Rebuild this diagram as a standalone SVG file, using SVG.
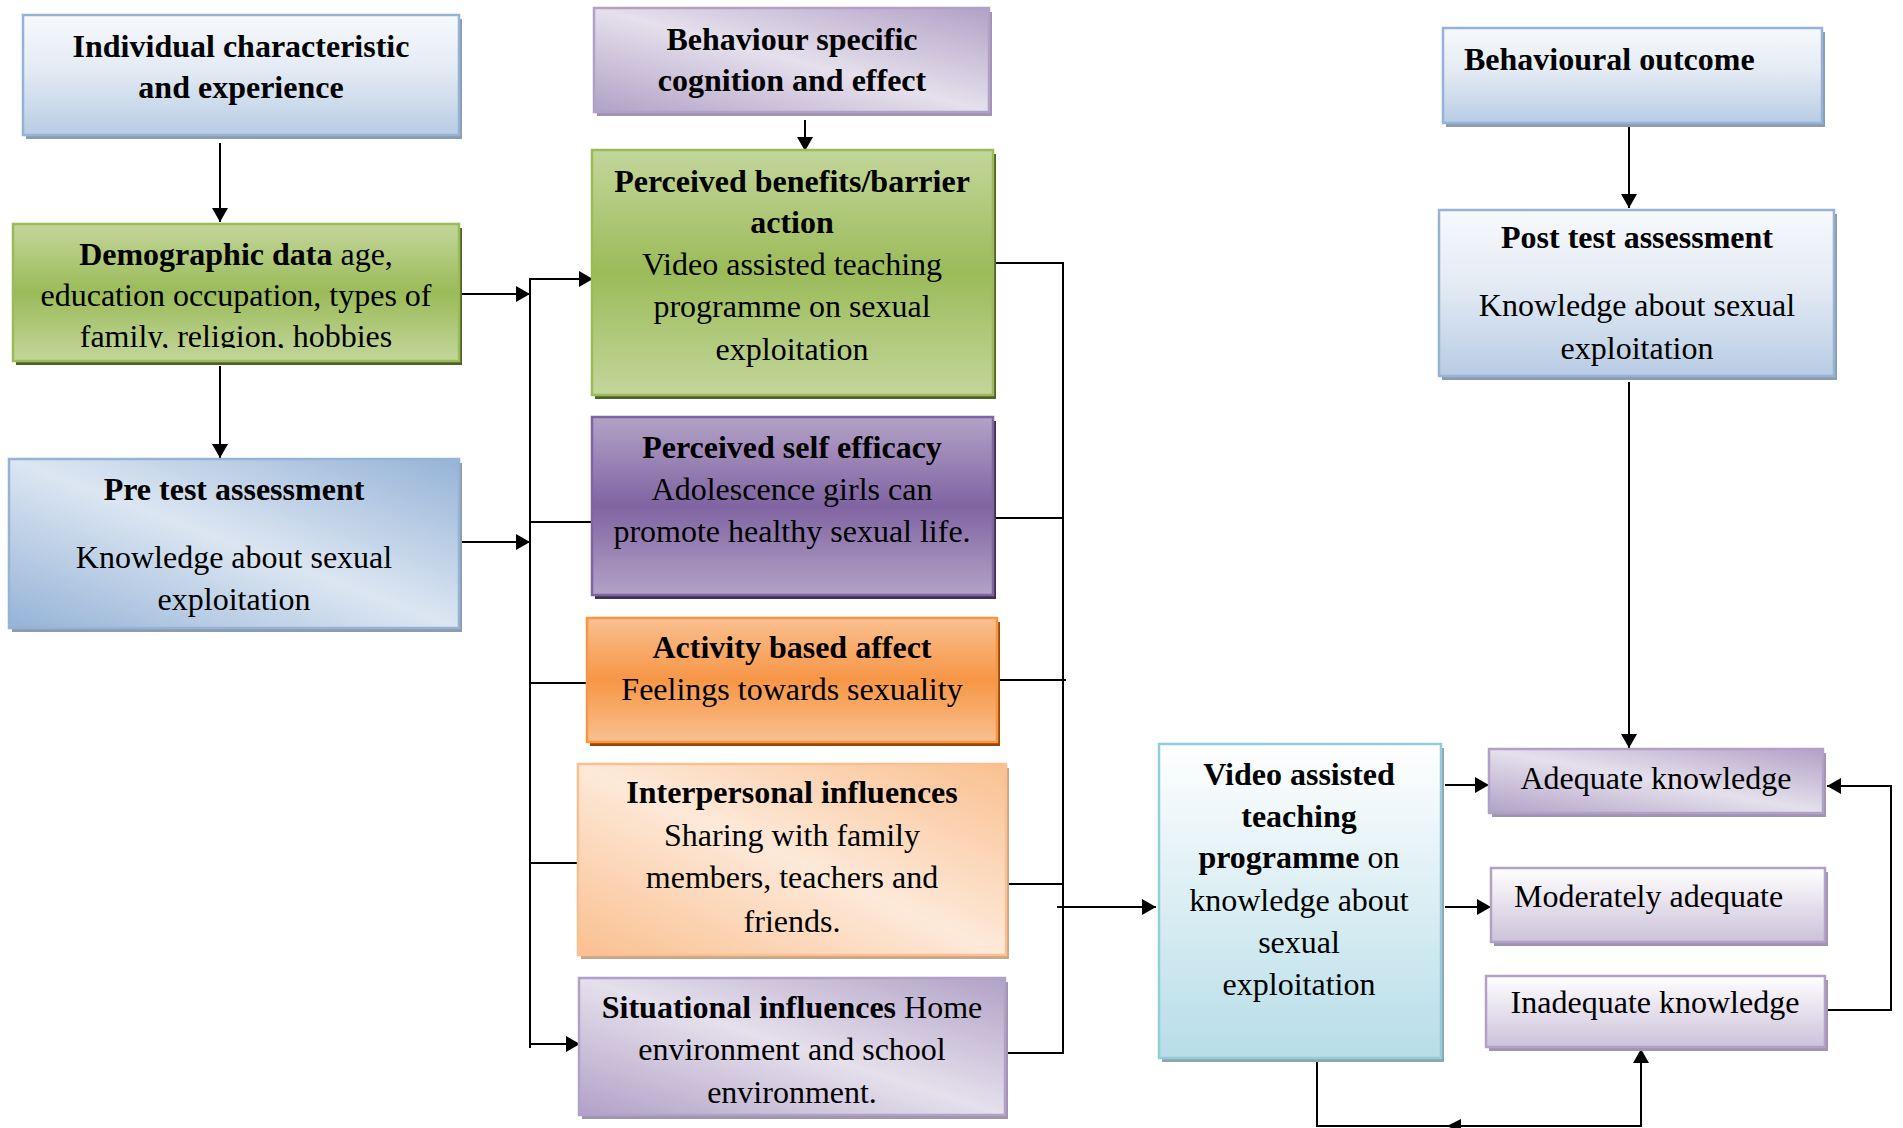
<svg xmlns="http://www.w3.org/2000/svg" width="1903" height="1128" viewBox="0 0 1903 1128">
<defs>
<style>
.t{font-family:"Liberation Serif","Times New Roman",serif;font-size:32px;fill:#000}
.c{text-anchor:middle}
.b{font-weight:bold}
.conn line,.conn polyline{stroke:#000;stroke-width:2;fill:none}
.ar{marker-end:url(#arr)}
</style>
<marker id="arr" markerUnits="userSpaceOnUse" markerWidth="16" markerHeight="16" refX="14" refY="8" orient="auto">
<path d="M0,0 L14,8 L0,16 Z" fill="#000"/>
</marker>
<linearGradient id="gBlue" x1="0" y1="0" x2="0" y2="1">
<stop offset="0" stop-color="#f7f9fc"/><stop offset="0.45" stop-color="#e4ebf4"/><stop offset="1" stop-color="#b8cce4"/>
</linearGradient>
<linearGradient id="gBlueDiag" x1="1" y1="0" x2="0" y2="1">
<stop offset="0" stop-color="#95b3d7"/><stop offset="0.5" stop-color="#dce6f2"/><stop offset="1" stop-color="#95b3d7"/>
</linearGradient>
<linearGradient id="gGreen" x1="0" y1="0" x2="0" y2="1">
<stop offset="0" stop-color="#c3d69b"/><stop offset="0.5" stop-color="#9bbb59"/><stop offset="1" stop-color="#c3d69b"/>
</linearGradient>
<linearGradient id="gPurpleDark" x1="0" y1="0" x2="0" y2="1">
<stop offset="0" stop-color="#b3a2c7"/><stop offset="0.5" stop-color="#8064a2"/><stop offset="1" stop-color="#b3a2c7"/>
</linearGradient>
<linearGradient id="gOrange" x1="0" y1="0" x2="0" y2="1">
<stop offset="0" stop-color="#fac090"/><stop offset="0.5" stop-color="#f79646"/><stop offset="1" stop-color="#fac090"/>
</linearGradient>
<linearGradient id="gPurpleDiag" x1="1" y1="0" x2="0" y2="1">
<stop offset="0" stop-color="#b2a1c7"/><stop offset="0.5" stop-color="#e5e0ec"/><stop offset="1" stop-color="#b2a1c7"/>
</linearGradient>
<linearGradient id="gOrangeDiag" x1="1" y1="0" x2="0" y2="1">
<stop offset="0" stop-color="#fac090"/><stop offset="0.5" stop-color="#fde9d9"/><stop offset="1" stop-color="#fac090"/>
</linearGradient>
<linearGradient id="gVideo" x1="0" y1="0" x2="0" y2="1">
<stop offset="0" stop-color="#ffffff"/><stop offset="1" stop-color="#b7dde8"/>
</linearGradient>
<linearGradient id="gPurpleV" x1="0" y1="0" x2="0" y2="1">
<stop offset="0" stop-color="#ffffff"/><stop offset="1" stop-color="#ccc1da"/>
</linearGradient>
<clipPath id="clipDemo"><rect x="13" y="224" width="446" height="124"/></clipPath>
</defs>

<g class="conn" id="connectors">
<line class="ar" x1="220" y1="143" x2="220" y2="222"/>
<line class="ar" x1="220" y1="366" x2="220" y2="458"/>
<line class="ar" x1="459" y1="294" x2="530" y2="294"/>
<line class="ar" x1="459" y1="542" x2="530" y2="542"/>
<line x1="530" y1="278" x2="530" y2="1048"/>
<line class="ar" x1="529" y1="279" x2="593" y2="279"/>
<line x1="530" y1="522" x2="594" y2="522"/>
<line x1="530" y1="683" x2="587" y2="683"/>
<line x1="530" y1="863" x2="578" y2="863"/>
<line class="ar" x1="530" y1="1044" x2="580" y2="1044"/>
<line class="ar" x1="805" y1="120" x2="805" y2="151"/>
<line x1="1063" y1="262" x2="1063" y2="1054"/>
<line x1="993" y1="263" x2="1064" y2="263"/>
<line x1="993" y1="518" x2="1063" y2="518"/>
<line x1="997" y1="680" x2="1066" y2="680"/>
<line x1="1006" y1="884" x2="1063" y2="884"/>
<line x1="1005" y1="1053" x2="1064" y2="1053"/>
<line class="ar" x1="1057" y1="907" x2="1156" y2="907"/>
<line class="ar" x1="1629" y1="126" x2="1629" y2="208"/>
<line class="ar" x1="1629" y1="382" x2="1629" y2="748"/>
<line class="ar" x1="1445" y1="785" x2="1489" y2="785"/>
<line class="ar" x1="1445" y1="907" x2="1491" y2="907"/>
<polyline class="ar" points="1828,1010 1891,1010 1891,786 1827,786"/>
<polyline class="ar" points="1317,1058 1317,1126 1641,1126 1641,1049"/>
<path d="M1447,1126 L1461,1119 L1461,1133 Z" fill="#000"/>
</g>

<g id="n-individual">
<rect x="26" y="19" width="436" height="120" fill="#8d9bae"/>
<rect x="23" y="15" width="436" height="120" fill="url(#gBlue)" stroke="#95b3d7" stroke-width="2.5"/>
<text class="t c b" x="241" y="57">Individual characteristic</text>
<text class="t c b" x="241" y="98">and experience</text>
</g>

<g id="n-demographic">
<rect x="16" y="228" width="446" height="137" fill="#4f6228"/>
<rect x="13" y="224" width="446" height="137" fill="url(#gGreen)" stroke="#9bbb59" stroke-width="2.5"/>
<g clip-path="url(#clipDemo)">
<text class="t c" x="236" y="265"><tspan class="b">Demographic data</tspan> age,</text>
<text class="t c" x="236" y="306">education occupation, types of</text>
<text class="t c" x="236" y="347">family, religion, hobbies</text>
</g>
</g>

<g id="n-pretest">
<rect x="12" y="463" width="450" height="169" fill="#8d9bae"/>
<rect x="9" y="459" width="450" height="169" fill="url(#gBlueDiag)" stroke="#95b3d7" stroke-width="2.5"/>
<text class="t c b" x="234" y="500">Pre test assessment</text>
<text class="t c" x="234" y="568">Knowledge about sexual</text>
<text class="t c" x="234" y="610">exploitation</text>
</g>

<g id="n-behaviour">
<rect x="597" y="12" width="395" height="104" fill="#a094ae"/>
<rect x="594" y="8" width="395" height="104" fill="url(#gPurpleDiag)" stroke="#b2a1c7" stroke-width="2.5"/>
<text class="t c b" x="792" y="50">Behaviour specific</text>
<text class="t c b" x="792" y="91">cognition and effect</text>
</g>

<g id="n-benefits">
<rect x="595" y="154" width="401" height="245" fill="#4f6228"/>
<rect x="592" y="150" width="401" height="245" fill="url(#gGreen)" stroke="#9bbb59" stroke-width="2.5"/>
<text class="t c b" x="792" y="192">Perceived benefits/barrier</text>
<text class="t c b" x="792" y="233">action</text>
<text class="t c" x="792" y="275">Video assisted teaching</text>
<text class="t c" x="792" y="317">programme on sexual</text>
<text class="t c" x="792" y="360">exploitation</text>
</g>

<g id="n-selfefficacy">
<rect x="595" y="421" width="401" height="178" fill="#3f3151"/>
<rect x="592" y="417" width="401" height="178" fill="url(#gPurpleDark)" stroke="#8064a2" stroke-width="2.5"/>
<text class="t c b" x="792" y="458">Perceived self efficacy</text>
<text class="t c" x="792" y="500">Adolescence girls can</text>
<text class="t c" x="792" y="542">promote healthy sexual life.</text>
</g>

<g id="n-activity">
<rect x="590" y="622" width="410" height="124" fill="#984806"/>
<rect x="587" y="618" width="410" height="124" fill="url(#gOrange)" stroke="#f79646" stroke-width="2.5"/>
<text class="t c b" x="792" y="658">Activity based affect</text>
<text class="t c" x="792" y="700">Feelings towards sexuality</text>
</g>

<g id="n-interpersonal">
<rect x="581" y="768" width="428" height="191" fill="#c9a68a"/>
<rect x="578" y="764" width="428" height="191" fill="url(#gOrangeDiag)" stroke="#fac090" stroke-width="2.5"/>
<text class="t c b" x="792" y="803">Interpersonal influences</text>
<text class="t c" x="792" y="846">Sharing with family</text>
<text class="t c" x="792" y="888">members, teachers and</text>
<text class="t c" x="792" y="932">friends.</text>
</g>

<g id="n-situational">
<rect x="582" y="982" width="426" height="137" fill="#a094ae"/>
<rect x="579" y="978" width="426" height="137" fill="url(#gPurpleDiag)" stroke="#b2a1c7" stroke-width="2.5"/>
<text class="t c" x="792" y="1018"><tspan class="b">Situational influences</tspan> Home</text>
<text class="t c" x="792" y="1060">environment and school</text>
<text class="t c" x="792" y="1103">environment.</text>
</g>

<g id="n-video">
<rect x="1162" y="748" width="282" height="314" fill="#8ea6ac"/>
<rect x="1159" y="744" width="282" height="314" fill="url(#gVideo)" stroke="#92cddc" stroke-width="2.5"/>
<text class="t c b" x="1299" y="785">Video assisted</text>
<text class="t c b" x="1299" y="827">teaching</text>
<text class="t c" x="1299" y="868"><tspan class="b">programme</tspan> on</text>
<text class="t c" x="1299" y="911">knowledge about</text>
<text class="t c" x="1299" y="953">sexual</text>
<text class="t c" x="1299" y="995">exploitation</text>
</g>

<g id="n-behavioural">
<rect x="1446" y="32" width="379" height="95" fill="#8d9bae"/>
<rect x="1443" y="28" width="379" height="95" fill="url(#gBlue)" stroke="#95b3d7" stroke-width="2.5"/>
<text class="t b" x="1464" y="70">Behavioural outcome</text>
</g>

<g id="n-posttest">
<rect x="1442" y="214" width="395" height="166" fill="#8d9bae"/>
<rect x="1439" y="210" width="395" height="166" fill="url(#gBlue)" stroke="#95b3d7" stroke-width="2.5"/>
<text class="t c b" x="1637" y="248">Post test assessment</text>
<text class="t c" x="1637" y="316">Knowledge about sexual</text>
<text class="t c" x="1637" y="359">exploitation</text>
</g>

<g id="n-adequate">
<rect x="1492" y="753" width="334" height="64" fill="#a094ae"/>
<rect x="1489" y="749" width="334" height="64" fill="url(#gPurpleDiag)" stroke="#b2a1c7" stroke-width="2.5"/>
<text class="t c" x="1656" y="789">Adequate knowledge</text>
</g>

<g id="n-moderate">
<rect x="1494" y="872" width="334" height="74" fill="#a094ae"/>
<rect x="1491" y="868" width="334" height="74" fill="url(#gPurpleV)" stroke="#b2a1c7" stroke-width="2.5"/>
<text class="t" x="1514" y="907">Moderately adequate</text>
</g>

<g id="n-inadequate">
<rect x="1489" y="980" width="339" height="71" fill="#a094ae"/>
<rect x="1486" y="976" width="339" height="71" fill="url(#gPurpleV)" stroke="#b2a1c7" stroke-width="2.5"/>
<text class="t c" x="1655" y="1013">Inadequate knowledge</text>
</g>
</svg>
